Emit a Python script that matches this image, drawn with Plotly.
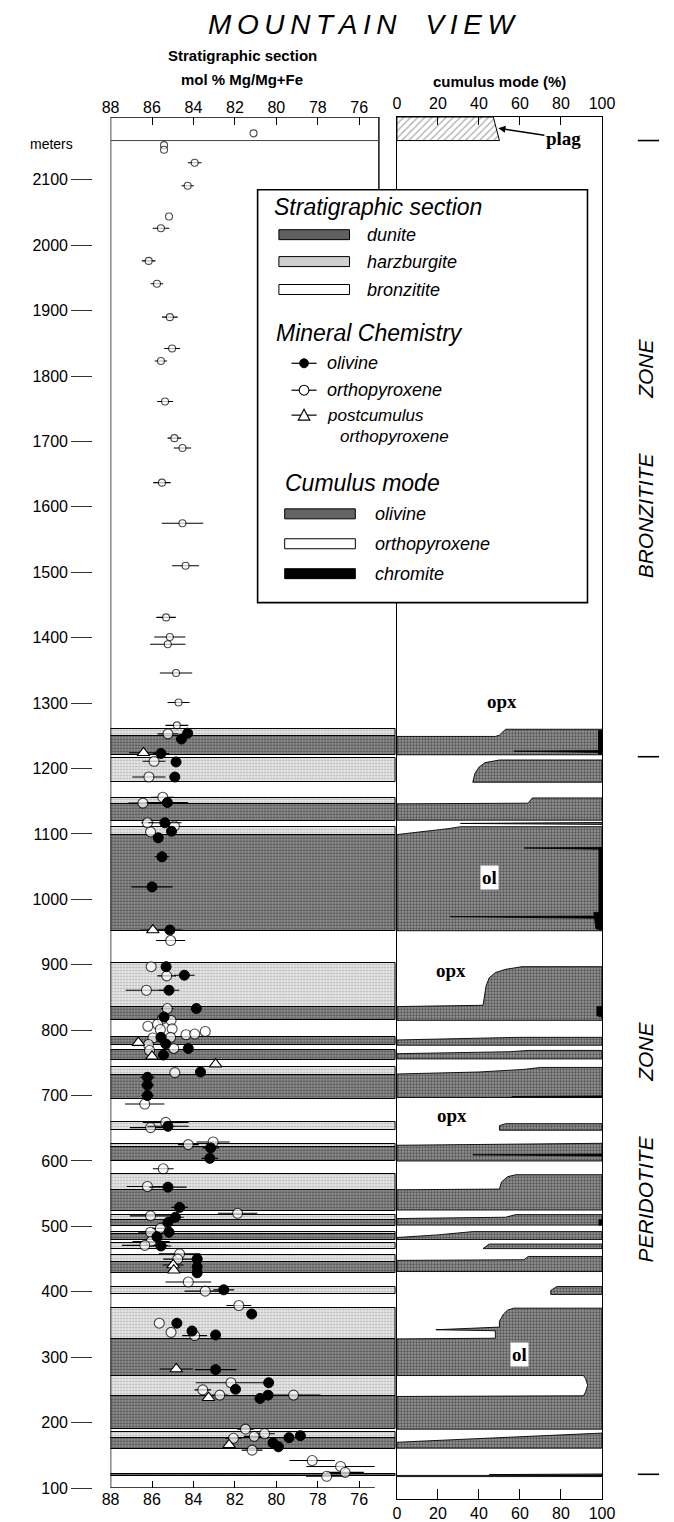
import plotly.graph_objects as go

W, H = 674, 1522
TOP_PX, BOT_PX = 117, 1503          # plot area (paper) top / bottom in pixels
SANS = "Liberation Sans, Arial, sans-serif"
SERIF = "Liberation Serif, Times New Roman, serif"

# ---------------- stratigraphic section (meters) ----------------
strat_top = [1260, 1249, 1216, 1155, 1146, 1111, 1099, 902, 835, 789, 769, 743, 731,
             660, 626, 621, 580, 555, 517, 510, 492, 488, 474, 457, 446, 408, 375,
             328, 272, 240, 186, 176, 122]
strat_base = [1249, 1221, 1179, 1146, 1120, 1099, 952, 835, 815, 777, 755, 731, 695,
              647, 621, 600, 555, 523, 510, 500, 488, 479, 466, 446, 428, 396, 328,
              272, 240, 190, 176, 160, 118]
strat_rock = ["harzburgite", "dunite", "harzburgite", "harzburgite", "dunite",
              "harzburgite", "dunite", "harzburgite", "dunite", "dunite", "dunite",
              "harzburgite", "dunite", "harzburgite", "harzburgite", "dunite",
              "harzburgite", "dunite", "harzburgite", "dunite", "harzburgite", "dunite",
              "harzburgite", "harzburgite", "dunite", "harzburgite", "harzburgite",
              "dunite", "harzburgite", "dunite", "harzburgite", "dunite", "dunite"]

# ---------------- mineral chemistry: mol % Mg/(Mg+Fe) ----------------
opx_m = [2171, 2153, 2146, 2126, 2091, 2044, 2026, 1976, 1941, 1890, 1842, 1823, 1761,
         1705, 1690, 1637, 1575, 1510, 1431, 1401, 1390, 1346, 1301, 1266,
         1253, 1211, 1187, 1156, 1147, 1117, 1112, 1103, 937, 897, 883, 861, 833, 817,
         815, 806, 809, 802, 801, 793, 794, 798, 789, 788, 778, 772, 769, 735, 687,
         659, 651, 629, 625, 588, 561, 520, 516, 497, 491, 477, 471, 458, 450, 415,
         401, 379, 352, 338, 333, 261, 250, 242, 242, 190, 183, 179, 176, 158, 142,
         133, 124, 118]
opx_mg = [81.1, 85.42, 85.42, 83.94, 84.28, 85.18, 85.57, 86.16, 85.76, 85.14, 85.03,
          85.57, 85.37, 84.92, 84.53, 85.52, 84.53, 84.38, 85.32, 85.14, 85.24, 84.84,
          84.72, 84.8,
          85.23, 85.9, 86.15, 85.48, 86.44, 86.22, 84.92, 86.07, 85.1, 86.04, 85.29,
          86.27, 85.26, 85.5, 85.08, 86.2, 85.73, 85.03, 85.6, 84.36, 83.94, 83.43,
          85.1, 85.96, 86.17, 84.95, 86.12, 84.9, 86.35, 85.34, 86.07, 83.05, 84.25,
          85.46, 86.22, 81.87, 86.07, 85.6, 86.07, 86.04, 86.35, 84.67, 84.76, 84.25,
          83.43, 81.81, 85.65, 85.08, 83.94, 82.19, 83.55, 82.73, 79.17, 81.49, 80.57,
          81.07, 82.07, 81.17, 78.27, 76.9, 76.68, 77.57]
opx_err = [0, 0, 0, 0.33, 0.3, 0, 0.4, 0.33, 0.3, 0.38, 0.38, 0.3, 0.38, 0.33, 0.42,
           0.42, 1.0, 0.65, 0.47, 0.75, 0.85, 0.78, 0.53, 0.55,
           0.5, 0.55, 0.8, 0.55, 0.7, 0.3, 0, 0, 0.7, 0, 0.45, 1.0, 0.3, 0, 0, 0, 0,
           0, 0, 0, 0, 0, 0, 0, 0, 0, 0, 0, 0.95, 1.1, 1.0, 0.8, 0.5, 0.5, 1.0, 0.95,
           1.0, 0.4, 0.6, 0.9, 1.1, 1.0, 0.7, 1.1, 1.0, 0.6, 0, 0, 0.6, 1.7, 0.4, 0.4,
           1.3, 0.4, 0.5, 0.5, 0.4, 0.5, 1.1, 1.65, 0.9, 1.0]

ol_m = [1254, 1245, 1223, 1210, 1187, 1148, 1117, 1104, 1094, 1065, 1019, 953, 897,
        884, 861, 833, 820, 789, 779, 772, 762, 736, 728, 716, 700, 653, 620, 604,
        560, 529, 514, 506, 491, 484, 470, 450, 438, 429, 403, 366, 352, 340, 334,
        281, 261, 251, 242, 237, 180, 177, 169, 163]
ol_mg = [84.28, 84.58, 85.57, 84.84, 84.9, 85.26, 85.38, 85.06, 85.7, 85.52, 86.0,
         85.14, 85.32, 84.44, 85.18, 83.86, 85.42, 85.57, 85.34, 84.25, 85.45, 83.66,
         86.22, 86.22, 86.22, 85.23, 83.17, 83.21, 85.23, 84.67, 84.87, 85.23, 85.18,
         85.76, 85.57, 83.82, 83.82, 83.82, 82.54, 81.19, 84.8, 84.07, 82.93, 82.93,
         80.37, 81.97, 80.4, 80.79, 78.84, 79.39, 80.16, 79.9]
ol_err = [0, 0, 0.4, 0, 0, 1.0, 0.8, 0, 0, 0.35, 1.0, 0.6, 0, 0.5, 0.5, 0, 0, 0, 0,
          0, 0, 0, 0.35, 0.3, 0.3, 1.0, 0.4, 0.4, 0.9, 0.4, 0.4, 0.3, 0, 0, 0.5, 0,
          0, 0, 0.5, 0, 0, 0, 0, 1.0, 0, 0, 0, 0, 0, 0, 0, 0]

post_m = [1224, 953, 781, 760, 748, 441, 433, 282, 238, 166]
post_mg = [86.41, 85.96, 86.66, 86.0, 82.93, 84.98, 84.95, 84.83, 83.27, 82.28]
post_err = [0.7, 0.6, 0, 0, 0, 0.5, 0, 0.8, 0, 0]

# ---------------- cumulus mode: olivine fields (left edge = opx %) ----------------
ol_poly_x = [
    [100, 53, 50, 48, 0, 0, 100],
    [100, 50, 43, 40, 38, 37, 100],
    [100, 66, 64, 0, 0, 100],
    [31, 100, 100],
    [100, 31, 25, 10, 0, 0, 100],
    [100, 61, 53, 48, 45, 43.5, 42, 0, 0, 100],
    [100, 60, 0, 0, 100],
    [100, 64, 55, 0, 0, 100],
    [100, 70, 62, 40, 0, 0, 100],
    [100, 53, 50, 50, 100],
    [100, 0, 0, 100],
    [100, 58, 54, 51, 50, 0, 0, 100],
    [100, 58, 53, 0, 0, 100],
    [100, 37, 20, 0, 0, 100],
    [100, 45, 42, 100],
    [100, 64, 62, 0, 0, 100],
    [100, 78, 75, 75, 100],
    [100, 57, 54, 52, 50, 50, 19, 48, 48, 0, 0, 91, 92, 93, 92, 91, 0, 0, 100],
    [100, 0, 0, 100],
    [45, 100, 100],
]
ol_poly_m = [
    [1260, 1260, 1251, 1249, 1249, 1221, 1221],
    [1213, 1213, 1209, 1202, 1192, 1179, 1179],
    [1155, 1155, 1147, 1146, 1121, 1121],
    [1116, 1117.5, 1114.5],
    [1111, 1111, 1108, 1103, 1099, 952, 952],
    [897, 897, 893, 888, 880, 868, 838, 836, 815, 815],
    [789, 789, 785, 777, 777],
    [769, 769, 767, 764, 756, 756],
    [743, 743, 740, 736, 733, 697, 697],
    [657, 657, 654, 647, 647],
    [627, 624, 600, 600],
    [579, 579, 576, 568, 557, 556, 525, 525],
    [518, 518, 514, 512, 502, 502],
    [492, 492, 487, 483, 480, 480],
    [473, 473, 466, 466],
    [454, 454, 449, 448, 431, 431],
    [408, 408, 402, 396, 396],
    [375, 375, 372, 366, 355, 346, 342, 340.5, 329, 328, 272, 272, 267, 257, 247,
     241, 240, 190, 190],
    [184, 170, 161, 161],
    [120.5, 121.5, 118.5],
]

# chromite (cumulus) fields
chr_poly_x = [
    [98.3, 100, 100, 98.3], [57, 100, 100], [62, 100, 100], [98.5, 100, 100, 98.5],
    [26, 100, 100], [96, 100, 100, 97], [97.5, 100, 100, 97.5], [56, 100, 100],
    [37, 100, 100], [98.5, 100, 100, 98.5], [0, 100, 100, 0],
]
chr_poly_m = [
    [1258, 1258, 1222, 1222], [1226.5, 1227.5, 1224.5], [1078.5, 1079.5, 1076.5],
    [1078, 1078, 975, 975], [973.5, 974.5, 971], [980, 980, 953, 955],
    [836, 836, 820, 822], [698.5, 699.5, 697], [609.5, 610.5, 607.5],
    [510, 510, 502, 502], [119.3, 119.3, 117.5, 117.5],
]

# plagioclase cap
plag_x = [0, 47, 50, 0]
plag_m = [2196, 2196, 2160, 2160]

# ---------------- geometry ----------------
M_TOP = 2196
PX_PER_M = (1492 - TOP_PX) / (M_TOP - 100)
MG_LEFT, PX_PER_MG = 88, 21.42
MG_RIGHT = MG_LEFT - (400 - 105) / PX_PER_MG
Y2_BOTTOM = 100 - (BOT_PX - 1492) / PX_PER_M


def pxx(x):
    return x / W


def pxy(y):
    return (BOT_PX - y) / (BOT_PX - TOP_PX)


DUNITE_PAT = dict(shape=".", fgcolor="#0c0c0c", bgcolor="#969696", size=3, solidity=0.45)
HARZ_PAT = dict(shape=".", fgcolor="#7c7c7c", bgcolor="#e8e8e8", size=3, solidity=0.32)

fig = go.Figure()

# stratigraphic bands
for rock, pat in (("dunite", DUNITE_PAT), ("harzburgite", HARZ_PAT)):
    idx = [i for i, r in enumerate(strat_rock) if r == rock]
    fig.add_trace(go.Bar(
        orientation="h",
        y=[(strat_top[i] + strat_base[i]) / 2 for i in idx],
        width=[strat_top[i] - strat_base[i] for i in idx],
        x=[MG_RIGHT - MG_LEFT] * len(idx),
        base=[MG_LEFT] * len(idx),
        marker=dict(color=pat["bgcolor"], pattern=pat, line=dict(color="black", width=1)),
        xaxis="x", yaxis="y", hoverinfo="skip", showlegend=False,
    ))

# cumulus mode fields
for xs, ms in zip(ol_poly_x, ol_poly_m):
    fig.add_trace(go.Scatter(
        x=xs + [xs[0]], y=ms + [ms[0]], mode="lines", fill="toself",
        fillcolor="#969696", fillpattern=DUNITE_PAT,
        line=dict(color="black", width=0.9), xaxis="x2", yaxis="y2",
        hoverinfo="skip", showlegend=False,
    ))
for xs, ms in zip(chr_poly_x, chr_poly_m):
    fig.add_trace(go.Scatter(
        x=xs + [xs[0]], y=ms + [ms[0]], mode="lines", fill="toself",
        fillcolor="black", line=dict(color="black", width=0.8),
        xaxis="x2", yaxis="y2", hoverinfo="skip", showlegend=False,
    ))
fig.add_trace(go.Scatter(
    x=plag_x + [plag_x[0]], y=plag_m + [plag_m[0]], mode="lines", fill="toself",
    fillcolor="white",
    fillpattern=dict(shape="/", fgcolor="#555555", bgcolor="white", size=5, solidity=0.25),
    line=dict(color="black", width=1), xaxis="x2", yaxis="y2",
    hoverinfo="skip", showlegend=False,
))


def err(vals):
    return dict(type="data", array=vals, visible=True, thickness=1.1, width=0, color="black")


fig.add_trace(go.Scatter(
    x=opx_mg, y=opx_m, mode="markers", error_x=err(opx_err),
    marker=dict(symbol="circle", size=[7 if m > 1262 else 10 for m in opx_m],
                color="white", line=dict(color="black", width=1.1)),
    xaxis="x", yaxis="y", hoverinfo="skip", showlegend=False,
))
fig.add_trace(go.Scatter(
    x=ol_mg, y=ol_m, mode="markers", error_x=err(ol_err),
    marker=dict(symbol="circle", size=10, color="black", line=dict(color="black", width=1)),
    xaxis="x", yaxis="y", hoverinfo="skip", showlegend=False,
))
fig.add_trace(go.Scatter(
    x=post_mg, y=post_m, mode="markers", error_x=err(post_err),
    marker=dict(symbol="triangle-up", size=11, color="white", line=dict(color="black", width=1.1)),
    xaxis="x", yaxis="y", hoverinfo="skip", showlegend=False,
))
# top axes of both panels
fig.add_trace(go.Scatter(x=[None], y=[None], xaxis="x3", yaxis="y", showlegend=False))
fig.add_trace(go.Scatter(x=[None], y=[None], xaxis="x4", yaxis="y2", showlegend=False))

tickfont = dict(family=SANS, size=16, color="black")
mg_ticks = [88, 86, 84, 82, 80, 78, 76]
mode_ticks = [0, 20, 40, 60, 80, 100]
left_dom = [105 / W, 400 / W]
right_dom = [401 / W, 613 / W]

fig.update_layout(
    width=W, height=H, autosize=False,
    margin=dict(l=0, r=0, t=TOP_PX, b=H - BOT_PX, pad=0),
    paper_bgcolor="white", plot_bgcolor="rgba(0,0,0,0)",
    showlegend=False, hovermode=False, barmode="overlay", bargap=0,
    xaxis=dict(domain=left_dom, range=[MG_LEFT, MG_RIGHT], anchor="y", side="bottom",
               tickvals=mg_ticks, ticks="inside", ticklen=7, tickwidth=1.2,
               tickcolor="black", showgrid=False, zeroline=False, showline=False,
               tickfont=tickfont),
    xaxis3=dict(range=[MG_LEFT, MG_RIGHT], overlaying="x", anchor="y", side="top",
                tickvals=mg_ticks, ticks="inside", ticklen=8, tickwidth=1.2,
                tickcolor="black", showgrid=False, zeroline=False, showline=False,
                tickfont=tickfont),
    yaxis=dict(domain=[(BOT_PX - 1492) / (BOT_PX - TOP_PX), 1], range=[100, M_TOP],
               anchor="free", position=86 / W, side="left",
               tickvals=list(range(100, 2200, 100)), ticks="outside", ticklen=21,
               tickwidth=1.4, tickcolor="#333333", showgrid=False, zeroline=False,
               showline=False, tickfont=tickfont),
    xaxis2=dict(domain=right_dom, range=[0, 100], anchor="y2", side="bottom",
                tickvals=mode_ticks, ticks="inside", ticklen=10, tickwidth=1.2,
                tickcolor="black", showgrid=False, zeroline=False, showline=True,
                linecolor="black", linewidth=1.4, tickfont=tickfont),
    xaxis4=dict(range=[0, 100], overlaying="x2", anchor="y2", side="top",
                tickvals=mode_ticks, ticks="inside", ticklen=8, tickwidth=1.2,
                tickcolor="black", showgrid=False, zeroline=False, showline=True,
                linecolor="black", linewidth=1.4, tickfont=tickfont),
    yaxis2=dict(domain=[0, 1], range=[Y2_BOTTOM, M_TOP], anchor="x2",
                showticklabels=False, ticks="", showgrid=False, zeroline=False,
                showline=True, mirror=True, linecolor="black", linewidth=1.4),
)

shapes = []
frame = dict(color="black", width=1.4)
# left panel frame
shapes.append(dict(type="line", xref="x", yref="y", x0=MG_LEFT, x1=MG_LEFT, y0=100, y1=M_TOP, line=frame))
shapes.append(dict(type="line", xref="x", yref="y", x0=MG_LEFT, x1=75.05, y0=M_TOP, y1=M_TOP, line=frame))
shapes.append(dict(type="line", xref="x", yref="y", x0=75.05, x1=75.05, y0=M_TOP, y1=2080, line=frame))
shapes.append(dict(type="line", xref="x", yref="y", x0=MG_LEFT, x1=75.25, y0=100, y1=100, line=frame))
shapes.append(dict(type="line", xref="x", yref="y", x0=MG_LEFT, x1=75.05, y0=2160, y1=2160,
                   line=dict(color="#444444", width=1)))
# zone boundary marks
for m in (2160, 1218, 121):
    shapes.append(dict(type="line", xref="paper", yref="y2", x0=pxx(650), x1=pxx(672),
                       y0=m, y1=m, line=dict(color="black", width=1.6)))

# legend frame
shapes.append(dict(type="rect", xref="paper", yref="paper", x0=pxx(257), x1=pxx(598),
                   y0=pxy(604), y1=pxy(190), fillcolor="white",
                   line=dict(color="black", width=1.6), layer="above"))

annotations = []


def label(x, y, text, size, italic=True, anchor="left", bold=False, family=SANS):
    annotations.append(dict(
        xref="paper", yref="paper", x=pxx(x), y=pxy(y), text=text, showarrow=False,
        xanchor=anchor, yanchor="middle",
        font=dict(family=family, size=size, color="black",
                  style="italic" if italic else "normal",
                  weight="bold" if bold else "normal"),
    ))


def swatch(x0, x1, yc, color, h=10):
    shapes.append(dict(type="rect", xref="paper", yref="paper", x0=pxx(x0), x1=pxx(x1),
                       y0=pxy(yc + h / 2), y1=pxy(yc - h / 2), fillcolor=color,
                       line=dict(color="black", width=1), layer="above"))


# legend: stratigraphic section
label(272, 207, "Stratigraphic section", 23)
for yc, color, name in ((235, "#606060", "dunite"), (262, "#d0d0d0", "harzburgite"),
                        (290, "white", "bronzitite")):
    swatch(279, 352, yc, color)
    label(368, yc, name, 18)

# legend: mineral chemistry
label(274, 334, "Mineral Chemistry", 23)
for yc, name in ((364, "olivine"), (391, "orthopyroxene"), (416, "postcumulus")):
    shapes.append(dict(type="line", xref="paper", yref="paper", x0=pxx(292), x1=pxx(318),
                       y0=pxy(yc), y1=pxy(yc), line=dict(color="black", width=1.2), layer="above"))
    label(327, yc, name, 17 if yc == 416 else 18)
shapes.append(dict(type="circle", xref="paper", yref="paper", x0=pxx(300.5), x1=pxx(309.5),
                   y0=pxy(368.5), y1=pxy(359.5), fillcolor="black",
                   line=dict(color="black", width=1), layer="above"))
shapes.append(dict(type="circle", xref="paper", yref="paper", x0=pxx(300), x1=pxx(310),
                   y0=pxy(396), y1=pxy(386), fillcolor="white",
                   line=dict(color="black", width=1.1), layer="above"))
shapes.append(dict(type="path", xref="paper", yref="paper",
                   path=f"M {pxx(299)} {pxy(421)} L {pxx(311)} {pxy(421)} L {pxx(305)} {pxy(410)} Z",
                   fillcolor="white", line=dict(color="black", width=1.1), layer="above"))
label(340, 437, "orthopyroxene", 17)

# legend: cumulus mode
label(283, 484, "Cumulus mode", 23)
for yc, color, name in ((515, "#646464", "olivine"), (545, "white", "orthopyroxene"),
                        (575, "black", "chromite")):
    swatch(285, 358, yc, color)
    label(376, yc, name, 18)

# titles
label(365, 24, "M\u2009O\u2009U\u2009N\u2009T\u2009A\u2009I\u2009N\u00a0\u00a0\u00a0\u2009V\u2009I\u2009E\u2009W",
      28, anchor="center")
label(241, 55, "Stratigraphic section", 15, italic=False, anchor="center", bold=True)
label(241, 79, "mol % Mg/Mg+Fe", 15, italic=False, anchor="center", bold=True)
label(507, 81, "cumulus mode (%)", 15, italic=False, anchor="center", bold=True)
label(20, 144, "meters", 14, italic=False)

# zone names
for yc, text in ((517, "BRONZITITE"), (370, "ZONE"), (1202, "PERIDOTITE"), (1055, "ZONE")):
    annotations.append(dict(xref="paper", yref="paper", x=pxx(658), y=pxy(yc), text=text,
                            showarrow=False, textangle=-90, xanchor="center", yanchor="middle",
                            font=dict(family=SANS, size=21, color="black", style="italic")))

# cumulus labels
for xm, m, text, box in ((51, 1303, "opx", False), (45, 1033, "ol", True),
                         (26.5, 891, "opx", False), (27, 670, "opx", False),
                         (60, 304, "ol", True)):
    annotations.append(dict(xref="x2", yref="y2", x=xm, y=m, text=text, showarrow=False,
                            bgcolor="white" if box else None, borderpad=1,
                            font=dict(family=SERIF, size=19, color="black", weight="bold")))
annotations.append(dict(xref="x2", yref="y2", x=49, y=2179, text="plag", showarrow=True,
                        arrowhead=2, arrowsize=1, arrowwidth=1.4, arrowcolor="black",
                        ax=66, ay=10, standoff=1,
                        font=dict(family=SERIF, size=19, color="black", weight="bold")))

fig.update_layout(shapes=shapes, annotations=annotations)
fig.write_html("out.html")
